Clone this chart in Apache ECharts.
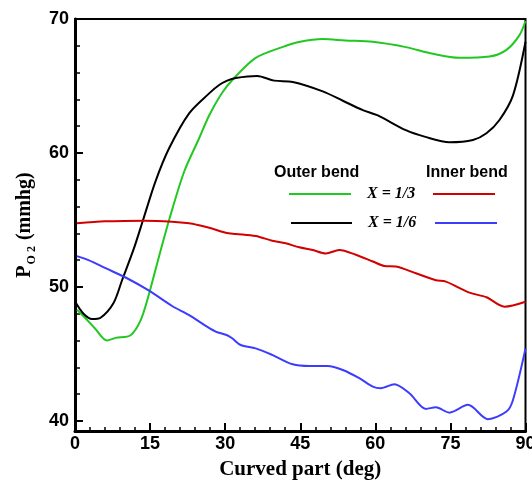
<!DOCTYPE html>
<html>
<head>
<meta charset="utf-8">
<script src="https://cdn.jsdelivr.net/npm/echarts@6/dist/echarts.min.js"></script>
<style>
  html, body { margin: 0; padding: 0; background: #fff; }
  #chart { width: 532px; height: 481px; }
</style>
</head>
<body>
<div id="chart"></div>
<script>
// Oxygen partial pressure along the curved part of the vessel
const outerThirdDeg = [0.4, 2, 4, 6.4, 8.1, 11.1, 13.1, 14.8, 16.8, 18.8, 21.8, 24.8, 26.8, 29.4, 31.8, 36.1, 41.4, 45, 49.5, 54, 59.5, 66.1, 71.5, 76.8, 82.8, 86.2, 88.8, 90];
const outerThirdVal = [48.3, 47.7, 46.9, 46.0, 46.2, 46.4, 47.5, 49.5, 52.3, 55.0, 58.6, 61.1, 62.8, 64.5, 65.6, 67.1, 67.9, 68.3, 68.5, 68.4, 68.3, 67.9, 67.4, 67.1, 67.2, 67.7, 68.8, 69.85];

const outerSixthDeg = [0.2, 1.7, 3.4, 5.1, 7.7, 9.4, 11.7, 13.6, 16.1, 18.8, 22.8, 26.8, 28.8, 30.4, 32.1, 36.4, 39.8, 43.5, 49.5, 53.5, 57.5, 60.5, 66.1, 70, 74.8, 79.5, 82.2, 84.8, 87.5, 90];
const outerSixthVal = [48.8, 48.0, 47.6, 47.7, 48.8, 50.5, 52.8, 55.0, 57.9, 60.35, 62.96, 64.45, 65.07, 65.4, 65.6, 65.75, 65.4, 65.3, 64.6, 63.9, 63.2, 62.8, 61.7, 61.2, 60.8, 60.97, 61.47, 62.46, 64.3, 68.3];

const innerThirdDeg = [0.4, 6, 14, 19.4, 22.8, 24.8, 27, 30.1, 32.1, 36.1, 39.4, 42.1, 44.8, 47.5, 50.1, 52.8, 56.1, 59.5, 61.8, 64.1, 68.1, 72.1, 74.1, 78.8, 82.2, 85.8, 90];
const innerThirdVal = [54.75, 54.9, 54.95, 54.87, 54.75, 54.6, 54.4, 54.05, 53.96, 53.8, 53.45, 53.26, 52.96, 52.76, 52.5, 52.76, 52.4, 51.9, 51.57, 51.52, 51.02, 50.5, 50.4, 49.58, 49.23, 48.53, 48.9];

const innerSixthDeg = [0.4, 2.7, 6.1, 10.4, 14.8, 19.4, 22.8, 26.1, 28.1, 30.4, 31.4, 33.1, 36.1, 39.4, 43.5, 46.8, 50.5, 53.5, 56.8, 59.5, 61.1, 63.8, 66.8, 70.1, 72.1, 74.8, 78.5, 82.5, 86.2, 87.5, 90];
const innerSixthVal = [52.3, 52.0, 51.4, 50.65, 49.72, 48.58, 47.9, 47.1, 46.67, 46.4, 46.17, 45.67, 45.42, 44.93, 44.23, 44.1, 44.1, 43.8, 43.19, 42.56, 42.44, 42.74, 42.07, 40.9, 41.02, 40.62, 41.2, 40.13, 40.7, 41.57, 45.4];

const yMajorTicks = [40, 50, 60, 70];
const yMinorTicks = [42, 44, 46, 48, 52, 54, 56, 58, 62, 64, 66, 68];

const zip = (xs, ys) => xs.map((x, i) => [x, ys[i]]);

const chart = echarts.init(document.getElementById('chart'), null, { renderer: 'canvas' });

const tickFont = { fontFamily: 'Liberation Sans, Arial, sans-serif', fontWeight: 'bold', fontSize: 18, color: '#000' };
const serif = 'Liberation Serif, Times New Roman, serif';

function lineSeries(name, xs, ys, color) {
  return {
    name, type: 'line', data: zip(xs, ys), xAxisIndex: 0, yAxisIndex: 0,
    showSymbol: false, smooth: 0.3, lineStyle: { color, width: 2 }, z: 3
  };
}

const legendFont = 'bold 16px "Liberation Sans", Arial, sans-serif';
const keyFont = 'italic bold 16px "Liberation Serif", "Times New Roman", serif';

chart.setOption({
  animation: false,
  grid: {
    left: 75, right: 6.5, top: 19, bottom: 50, outerBoundsMode: 'none', containLabel: false,
    show: true, borderColor: '#000', borderWidth: 2, backgroundColor: 'transparent'
  },
  xAxis: [{
    type: 'value', min: 0, max: 90, interval: 15,
    name: 'Curved part (deg)', nameLocation: 'middle', nameGap: 28,
    nameTextStyle: { fontFamily: serif, fontWeight: 'bold', fontSize: 21, color: '#000' },
    axisLine: { show: true, onZero: false, lineStyle: { color: '#000', width: 3 } },
    axisTick: { show: true, inside: true, length: 8, lineStyle: { color: '#000', width: 2 } },
    minorTick: { show: true, splitNumber: 5, length: 4, lineStyle: { color: '#000', width: 1.5 } },
    axisLabel: Object.assign({ margin: 4, showMaxLabel: true, showMinLabel: true, alignMinLabel: 'center', alignMaxLabel: 'center' }, tickFont),
    splitLine: { show: false }
  }],
  yAxis: [{
    type: 'value', min: 39.25, max: 70,
    name: '{p|P}{s|O 2}{n| (mmhg)}', nameLocation: 'middle', nameGap: 39, nameRotate: 90,
    nameTextStyle: {
      color: '#000',
      rich: {
        p: { fontFamily: serif, fontWeight: 'bold', fontSize: 20, color: '#000' },
        s: { fontFamily: serif, fontWeight: 'bold', fontSize: 12, color: '#000', verticalAlign: 'bottom', padding: [0, 1, -3, 1] },
        n: { fontFamily: serif, fontWeight: 'bold', fontSize: 20, color: '#000' }
      }
    },
    axisLine: { show: true, onZero: false, lineStyle: { color: '#000', width: 3 } },
    axisTick: { show: true, inside: true, length: 8, customValues: yMajorTicks, lineStyle: { color: '#000', width: 2 } },
    axisLabel: Object.assign({ margin: 6, customValues: yMajorTicks }, tickFont),
    splitLine: { show: false }
  }, {
    type: 'value', min: 39.25, max: 70, position: 'left', offset: 0,
    axisLine: { show: false },
    axisTick: { show: true, inside: true, length: 5, customValues: yMinorTicks, lineStyle: { color: '#000', width: 1.5 } },
    axisLabel: { show: false },
    splitLine: { show: false }
  }],
  series: [
    lineSeries('Outer bend X = 1/3', outerThirdDeg, outerThirdVal, '#22c822'),
    lineSeries('Outer bend X = 1/6', outerSixthDeg, outerSixthVal, '#000000'),
    lineSeries('Inner bend X = 1/3', innerThirdDeg, innerThirdVal, '#d20000'),
    lineSeries('Inner bend X = 1/6', innerSixthDeg, innerSixthVal, '#3c3cff')
  ],
  graphic: [
    { type: 'text', left: 274, top: 165, style: { text: 'Outer bend', font: legendFont, fill: '#000' } },
    { type: 'text', left: 426, top: 165, style: { text: 'Inner bend', font: legendFont, fill: '#000' } },
    { type: 'line', shape: { x1: 289, y1: 194, x2: 351, y2: 194 }, style: { stroke: '#22c822', lineWidth: 2 } },
    { type: 'text', left: 367, top: 186, style: { text: 'X = 1/3', font: keyFont, fill: '#000' } },
    { type: 'line', shape: { x1: 433, y1: 194, x2: 495, y2: 194 }, style: { stroke: '#d20000', lineWidth: 2 } },
    { type: 'line', shape: { x1: 291, y1: 223, x2: 352, y2: 223 }, style: { stroke: '#000000', lineWidth: 2 } },
    { type: 'text', left: 368, top: 215, style: { text: 'X = 1/6', font: keyFont, fill: '#000' } },
    { type: 'line', shape: { x1: 435, y1: 223, x2: 497, y2: 223 }, style: { stroke: '#3c3cff', lineWidth: 2 } }
  ]
});
</script>
</body>
</html>
